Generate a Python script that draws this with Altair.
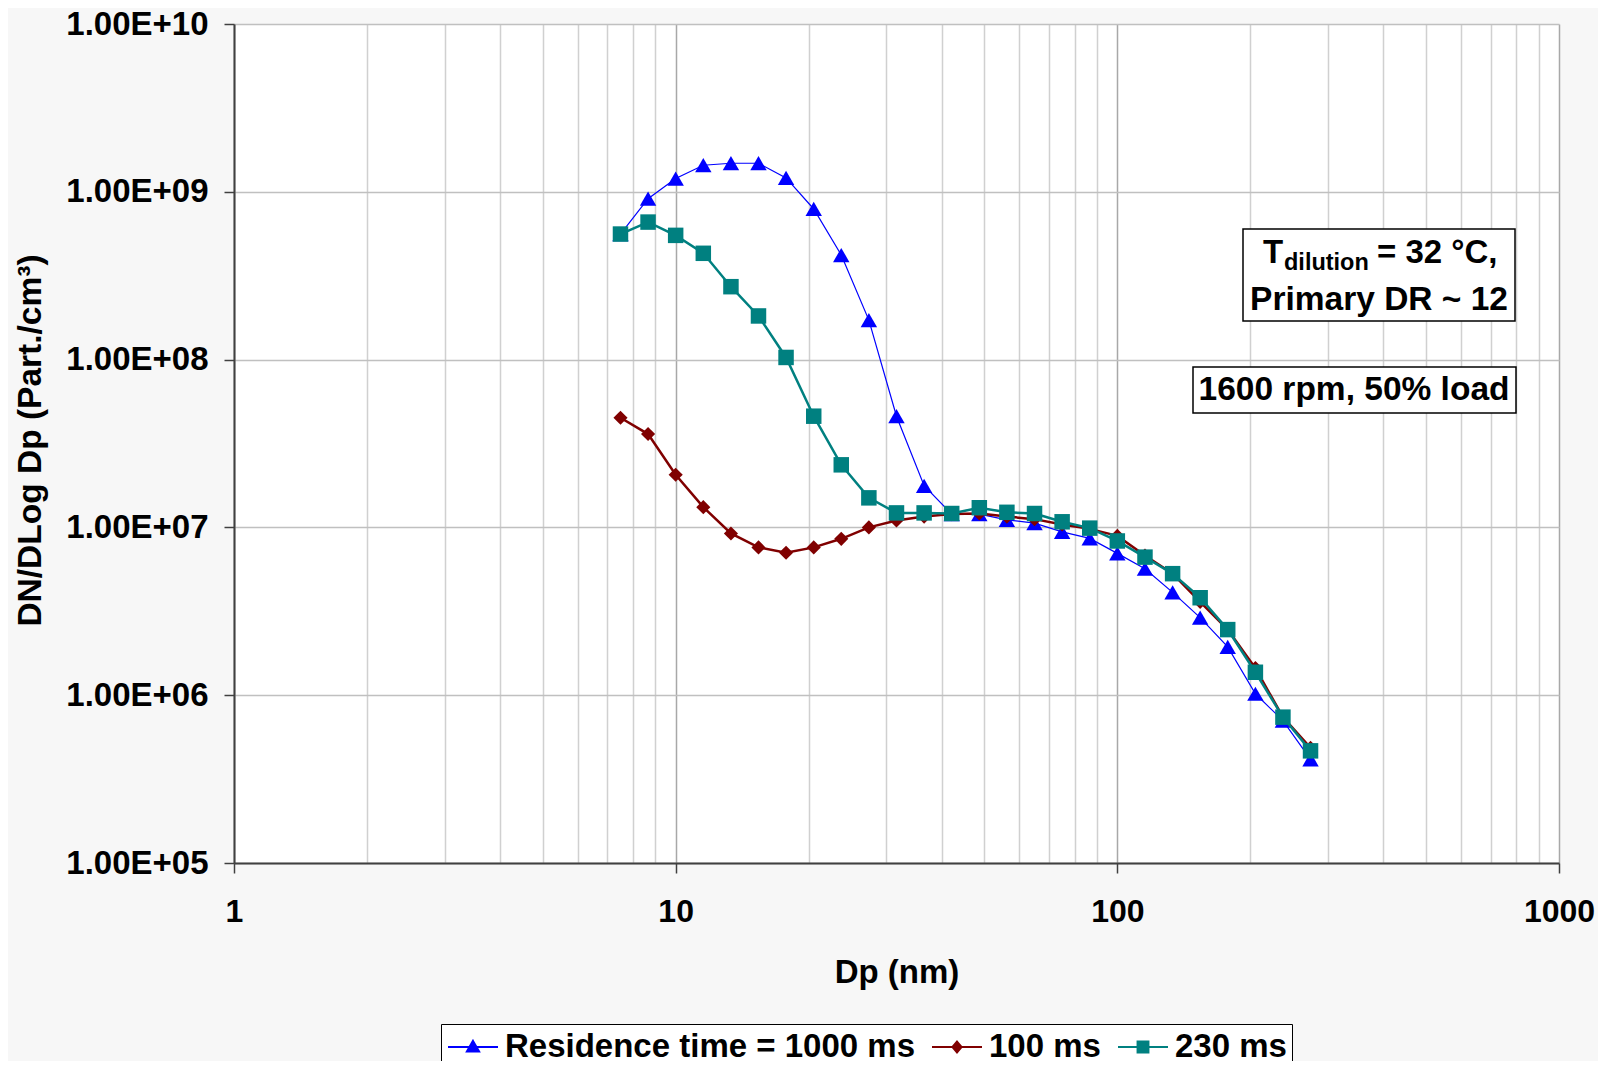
import altair as alt
import pandas as pd

# ---- data ----
dp_nm = [7.50, 8.66, 10.0, 11.55, 13.34, 15.40, 17.78, 20.54, 23.71, 27.38,
         31.62, 36.52, 42.17, 48.70, 56.23, 64.94, 74.99, 86.60, 100.0, 115.5,
         133.4, 154.0, 177.8, 205.4, 237.1, 273.8]

res_1000ms = [5.6e8, 9.1e8, 1.2e9, 1.44e9, 1.48e9, 1.48e9, 1.21e9, 7.9e8, 4.2e8, 1.72e8,
              4.6e7, 1.77e7, 1.2e7, 1.2e7, 1.11e7, 1.06e7, 9.4e6, 8.6e6, 7.0e6, 5.67e6,
              4.1e6, 2.9e6, 1.94e6, 1.02e6, 7.05e5, 4.15e5]

res_100ms = [4.5e7, 3.6e7, 2.06e7, 1.32e7, 9.2e6, 7.6e6, 7.06e6, 7.6e6, 8.55e6, 1.0e7,
             1.1e7, 1.16e7, 1.2e7, 1.21e7, 1.16e7, 1.12e7, 1.04e7, 9.8e6, 8.9e6, 6.8e6,
             5.3e6, 3.6e6, 2.46e6, 1.45e6, 7.4e5, 4.85e5]

res_230ms = [5.6e8, 6.6e8, 5.5e8, 4.3e8, 2.72e8, 1.82e8, 1.03e8, 4.6e7, 2.36e7, 1.5e7,
             1.22e7, 1.22e7, 1.21e7, 1.31e7, 1.23e7, 1.21e7, 1.08e7, 9.9e6, 8.3e6, 6.65e6,
             5.3e6, 3.81e6, 2.46e6, 1.37e6, 7.4e5, 4.66e5]

series_names = ["Residence time = 1000 ms", "100 ms", "230 ms"]
series_values = [res_1000ms, res_100ms, res_230ms]
series_colors = ["#0000ff", "#800000", "#008080"]
series_shapes = ["triangle-up", "diamond", "square"]
series_line_widths = [1.2, 2.5, 2.5]
series_marker_sizes = [270, 200, 240]

legend_paths = [
    "M-1.47,0H1.47M0,-0.36L0.36,0.27L-0.36,0.27Z",
    "M-1.47,0H1.47M0,-0.32L0.27,0L0,0.32L-0.27,0Z",
    "M-1.47,0H1.47M-0.32,-0.32H0.32V0.32H-0.32Z",
]

x_tick_values = [1, 2, 3, 4, 5, 6, 7, 8, 9,
                 10, 20, 30, 40, 50, 60, 70, 80, 90,
                 100, 200, 300, 400, 500, 600, 700, 800, 900, 1000]
y_tick_values = [1e5, 1e6, 1e7, 1e8, 1e9, 1e10]

FONT = "Liberation Sans"
W, H = 1325, 839

decade_test = "datum.value == 1 || datum.value == 10 || datum.value == 100 || datum.value == 1000"

x_scale = alt.Scale(type="log", domain=[1, 1000], nice=False)
y_scale = alt.Scale(type="log", domain=[1e5, 1e10], nice=False)

x_axis = alt.Axis(
    values=x_tick_values,
    labelExpr=f"({decade_test}) ? datum.value : ''",
    labelOverlap=False, labelFlush=False,
    grid=True,
    gridColor={"condition": {"test": decade_test, "value": "#a8a8a8"}, "value": "#d0d0d0"},
    gridWidth=1.5,
    tickColor={"condition": {"test": decade_test, "value": "#404040"}, "value": "transparent"},
    tickSize=10, tickWidth=1.5,
    domainColor="#404040", domainWidth=2,
    labelFont=FONT, labelFontSize=32, labelFontWeight="bold", labelColor="black",
    labelPadding=23, labelBaseline="top",
    title="Dp (nm)", titleFont=FONT, titleFontSize=33, titleFontWeight="bold",
    titleColor="black", titleY=109, titleBaseline="middle",
)

y_axis = alt.Axis(
    values=y_tick_values,
    labelExpr="'1.00E+' + (round(log(datum.value)/LN10) < 10 ? '0' : '') + round(log(datum.value)/LN10)",
    labelOverlap=False, labelFlush=False,
    grid=True, gridColor="#c0c0c0", gridWidth=1.5,
    tickColor="#404040", tickSize=10, tickWidth=1.5,
    domainColor="#404040", domainWidth=2,
    labelFont=FONT, labelFontSize=33, labelFontWeight="bold", labelColor="black",
    labelPadding=16,
    title="DN/DLog Dp (Part./cm³)", titleFont=FONT, titleFontSize=33.5,
    titleFontWeight="bold", titleColor="black",
    titleX=-204, titleY=416, titleAngle=270, titleAlign="center", titleBaseline="middle",
)

layers = []
for i, (name, vals) in enumerate(zip(series_names, series_values)):
    df = pd.DataFrame({"Dp": dp_nm, "value": vals, "series": name})
    base = alt.Chart(df).encode(
        x=alt.X("Dp:Q", scale=x_scale, axis=x_axis),
        y=alt.Y("value:Q", scale=y_scale, axis=y_axis),
    )
    line = base.mark_line(color=series_colors[i], strokeWidth=series_line_widths[i], clip=True)
    pts = base.mark_point(shape=series_shapes[i], filled=True, opacity=1,
                          color=series_colors[i], size=series_marker_sizes[i], clip=True)
    layers += [line, pts]

# legend-only layer: points placed below the plotted range and clipped away
leg_df = pd.DataFrame({"Dp": [500, 500, 500], "value": [1e3, 1e3, 1e3], "series": series_names})
leg_props = dict(
    title=None, orient="none", legendX=207, legendY=1000, direction="horizontal",
    symbolSize=1156, symbolStrokeWidth=2, symbolOpacity=1, symbolOffset=9,
    labelFont=FONT, labelFontSize=33, labelFontWeight="bold", labelColor="black",
    labelLimit=1000, labelOffset=14, columnPadding=13,
    strokeColor="black", fillColor="white", padding=5,
)
legend_layer = alt.Chart(leg_df).mark_point(filled=True, clip=True, opacity=1).encode(
    x=alt.X("Dp:Q", scale=x_scale, axis=x_axis),
    y=alt.Y("value:Q", scale=y_scale, axis=y_axis),
    fill=alt.Fill("series:N", scale=alt.Scale(domain=series_names, range=series_colors),
                  sort=series_names, legend=alt.Legend(**leg_props)),
    stroke=alt.Stroke("series:N", scale=alt.Scale(domain=series_names, range=series_colors),
                      sort=series_names, legend=alt.Legend(**leg_props)),
    shape=alt.Shape("series:N", scale=alt.Scale(domain=series_names, range=legend_paths),
                    sort=series_names, legend=alt.Legend(**leg_props)),
)

# annotation boxes (positions in pixels of the plot area)
one = pd.DataFrame({"k": [0]})

def box(x1, x2, y1, y2):
    return alt.Chart(one).mark_rect(fill="white", stroke="black", strokeWidth=1.5).encode(
        x=alt.value(x1), x2=alt.value(x2), y=alt.value(y1), y2=alt.value(y2))

def txt(s, x, y, size=33.5, align="left"):
    return alt.Chart(one).mark_text(font=FONT, fontSize=size, fontWeight="bold", color="black",
                                    align=align, baseline="alphabetic").encode(
        x=alt.value(x), y=alt.value(y), text=alt.value(s))

annotations = [
    box(1009, 1281, 205, 297),
    txt("T", 1029, 239, size=33),
    txt("dilution", 1050, 246, size=23.5),
    txt("= 32 °C,", 1143, 239, size=33),
    txt("Primary DR ~ 12", 1145, 286, align="center"),
    box(959, 1282, 343, 389),
    txt("1600 rpm, 50% load", 1120, 376, align="center"),
]

chart = alt.layer(*layers, legend_layer, *annotations).properties(
    width=W, height=H,
    autosize=alt.AutoSizeParams(type="none"),
    padding={"left": 226, "top": 16, "right": 39, "bottom": 198},
    background="#f7f7f7",
).configure_view(fill="white", stroke=None)

chart.save("out.html", embed_options={"renderer": "svg", "actions": False})
